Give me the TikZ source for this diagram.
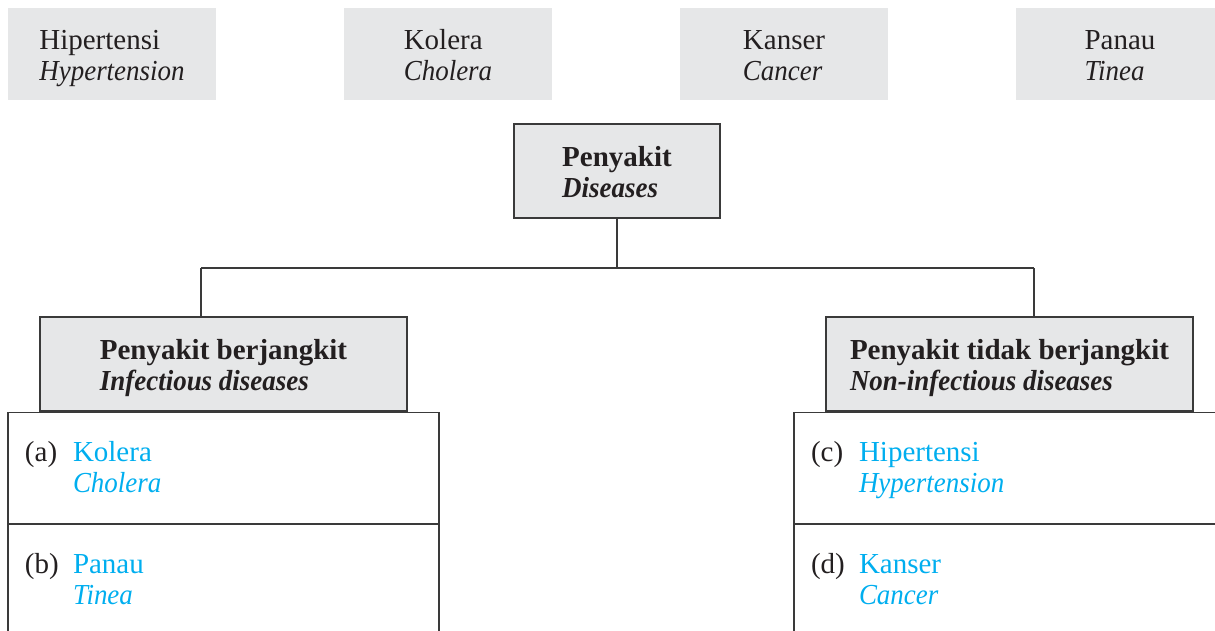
\documentclass[tikz,border=0pt]{standalone}
\usepackage{xcolor}
\usepackage{fontspec}
\setmainfont{Liberation Serif}[
  ItalicFeatures={FakeStretch=0.93},
  BoldItalicFeatures={FakeStretch=0.93}]
\usepackage{tikz}
\usetikzlibrary{positioning, calc}

\definecolor{boxgray}{HTML}{E6E7E8}
\definecolor{linegray}{HTML}{3A3A3A}
\definecolor{inkblack}{HTML}{231F20}
\definecolor{termcyan}{HTML}{00AEEF}

\newcommand{\bigtext}{\fontsize{16.5}{17.5}\selectfont}
% two-line label: plain name over italic English name
\newcommand{\pair}[2]{\rule{0pt}{18pt}#1\\\textit{#2}\strut}
\newcommand{\entry}[3]{\begin{tabular}{@{}p{0.96cm}@{}l@{}}\rule{0pt}{15.6pt}#1 & \color{termcyan}#2\\ & \color{termcyan}\itshape #3\end{tabular}}

\begin{document}
\begin{tikzpicture}[
    text=inkblack,
    font=\bigtext,
    tag/.style={rectangle, fill=boxgray, minimum width=4.16cm, minimum height=1.84cm, align=left, inner sep=0pt},
    head/.style={rectangle, draw=linegray, line width=0.6pt, fill=boxgray, minimum height=1.88cm, align=left, inner sep=0pt, font=\bigtext\bfseries},
    row/.style={rectangle, draw=linegray, line width=0.6pt, minimum width=8.62cm, minimum height=2.22cm, text width=7.94cm, inner xsep=0.34cm, inner ysep=0pt, align=left},
    link/.style={draw=linegray, line width=0.6pt}
]
    \useasboundingbox (0,0) rectangle (24.3,-12.6);
    \clip (0,0) rectangle (24.3,-12.6);

    % loose labels on top
    \node[tag] (hyp) at (2.24,-1.08) {\pair{Hipertensi}{Hypertension}};
    \node[tag] (chol) at (8.96,-1.08) {\pair{Kolera}{Cholera}};
    \node[tag] (canc) at (15.68,-1.08) {\pair{Kanser}{Cancer}};
    \node[tag] (tin) at (22.4,-1.08) {\pair{Panau}{Tinea}};

    % tree
    \node[head, minimum width=4.12cm] (root) at (12.34,-3.42) {\pair{Penyakit}{Diseases}};
    \node[head, minimum width=7.34cm] (infhead) at (4.47,-7.28) {\pair{Penyakit berjangkit}{Infectious diseases}};
    \node[head, minimum width=7.34cm] (nonhead) at (20.19,-7.28) {\pair{Penyakit tidak berjangkit}{Non-infectious diseases}};

    \node[row, below=0pt of infhead.south, anchor=north] (rowa) {\entry{(a)}{Kolera}{Cholera}};
    \node[row, below=0pt of rowa.south, anchor=north] (rowb) {\entry{(b)}{Panau}{Tinea}};
    \node[row, below=0pt of nonhead.south, anchor=north] (rowc) {\entry{(c)}{Hipertensi}{Hypertension}};
    \node[row, below=0pt of rowc.south, anchor=north] (rowd) {\entry{(d)}{Kanser}{Cancer}};

    \coordinate (bus) at (12.34,-5.36);
    \coordinate (ldrop) at (4.02,-5.36);
    \coordinate (rdrop) at (20.68,-5.36);

    \draw[link] (root.south) -- (bus);
    \draw[link] (ldrop) -- (rdrop);
    \draw[link] (ldrop) -- (ldrop |- infhead.north);
    \draw[link] (rdrop) -- (rdrop |- nonhead.north);
\end{tikzpicture}
\end{document}
